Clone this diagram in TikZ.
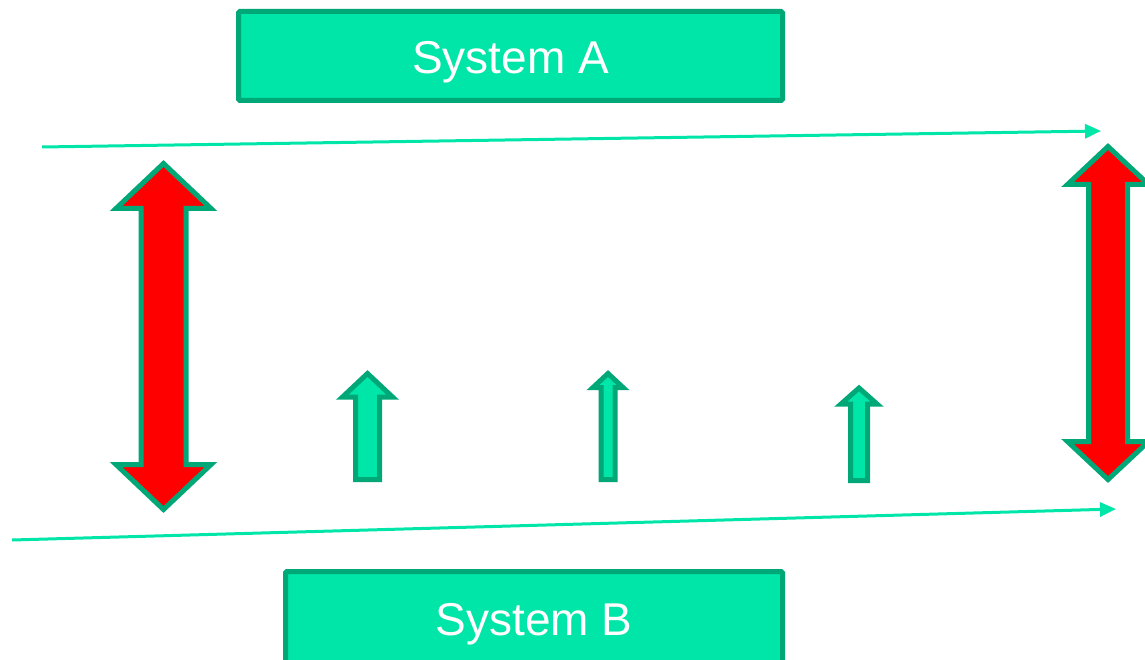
\documentclass[tikz,border=0pt]{standalone}
\usepackage{fontspec}
\setmainfont{Liberation Sans}
\usetikzlibrary{arrows.meta}
\definecolor{mint}{RGB}{0,229,168}
\definecolor{deepmint}{RGB}{0,168,120}
\definecolor{hotred}{RGB}{255,0,0}

% double-headed block arrow: centre x, top tip y, bottom tip y, head length, head half-width, shaft half-width, style
\newcommand\BlockDoubleArrow[7]{%
  \draw[#7] (#1,#2) -- ++(#5,#4) -- (#1+#6,#2+#4) -- (#1+#6,#3-#4) -- (#1+#5,#3-#4)
    -- (#1,#3) -- (#1-#5,#3-#4) -- (#1-#6,#3-#4) -- (#1-#6,#2+#4) -- (#1-#5,#2+#4) -- cycle;}
% upward block arrow: centre x, tip y, bottom y, head length, head half-width, shaft half-width, style
\newcommand\BlockUpArrow[7]{%
  \draw[#7] (#1,#2) -- (#1+#5,#2+#4) -- (#1+#6,#2+#4) -- (#1+#6,#3) -- (#1-#6,#3)
    -- (#1-#6,#2+#4) -- (#1-#5,#2+#4) -- cycle;}

\begin{document}
\begin{tikzpicture}[x=1pt,y=-1pt,
  sysbox/.style={draw=deepmint,fill=mint,line width=5pt,rounded corners=1.5pt,inner sep=0pt},
  syslabel/.style={text=white,font=\fontsize{46}{50}\selectfont},
  flow/.style={draw=mint,line width=3pt,-{Triangle[length=16pt,width=14pt]}},
  redarrow/.style={draw=deepmint,fill=hotred,line width=5pt,line join=miter},
  greenarrow/.style={draw=deepmint,fill=mint,line width=5pt,line join=miter}]
\useasboundingbox (0,0) rectangle (1145,660);

% the two systems
\node[sysbox,minimum width=544pt,minimum height=89pt] (sysA) at (510.5,56) {};
\node[syslabel] (labelA) at ([yshift=-6pt]sysA.center) {System A};
\node[sysbox,minimum width=497pt,minimum height=100pt] (sysB) at (534,621.5) {};
\node[syslabel] (labelB) at ([yshift=-3pt]sysB.center) {System B};

% flow lines
\coordinate (topstart) at (42,147);
\coordinate (topend) at (1101,131);
\coordinate (botstart) at (12,540);
\coordinate (botend) at (1116,509);
\draw[flow] (topstart) -- (topend);
\draw[flow] (botstart) -- (botend);

% exchange arrows
\BlockDoubleArrow{163.5}{163.5}{509.5}{45}{47.5}{22.5}{redarrow}
\BlockDoubleArrow{1108}{146.5}{479.5}{38}{40.5}{19.5}{redarrow}

% single transfers
\BlockUpArrow{367.5}{373.5}{479.5}{23.5}{25}{12}{greenarrow}
\BlockUpArrow{608}{373.5}{479.5}{14}{15}{7}{greenarrow}
\BlockUpArrow{859}{388}{480.5}{16}{18}{8.5}{greenarrow}
\end{tikzpicture}
\end{document}
